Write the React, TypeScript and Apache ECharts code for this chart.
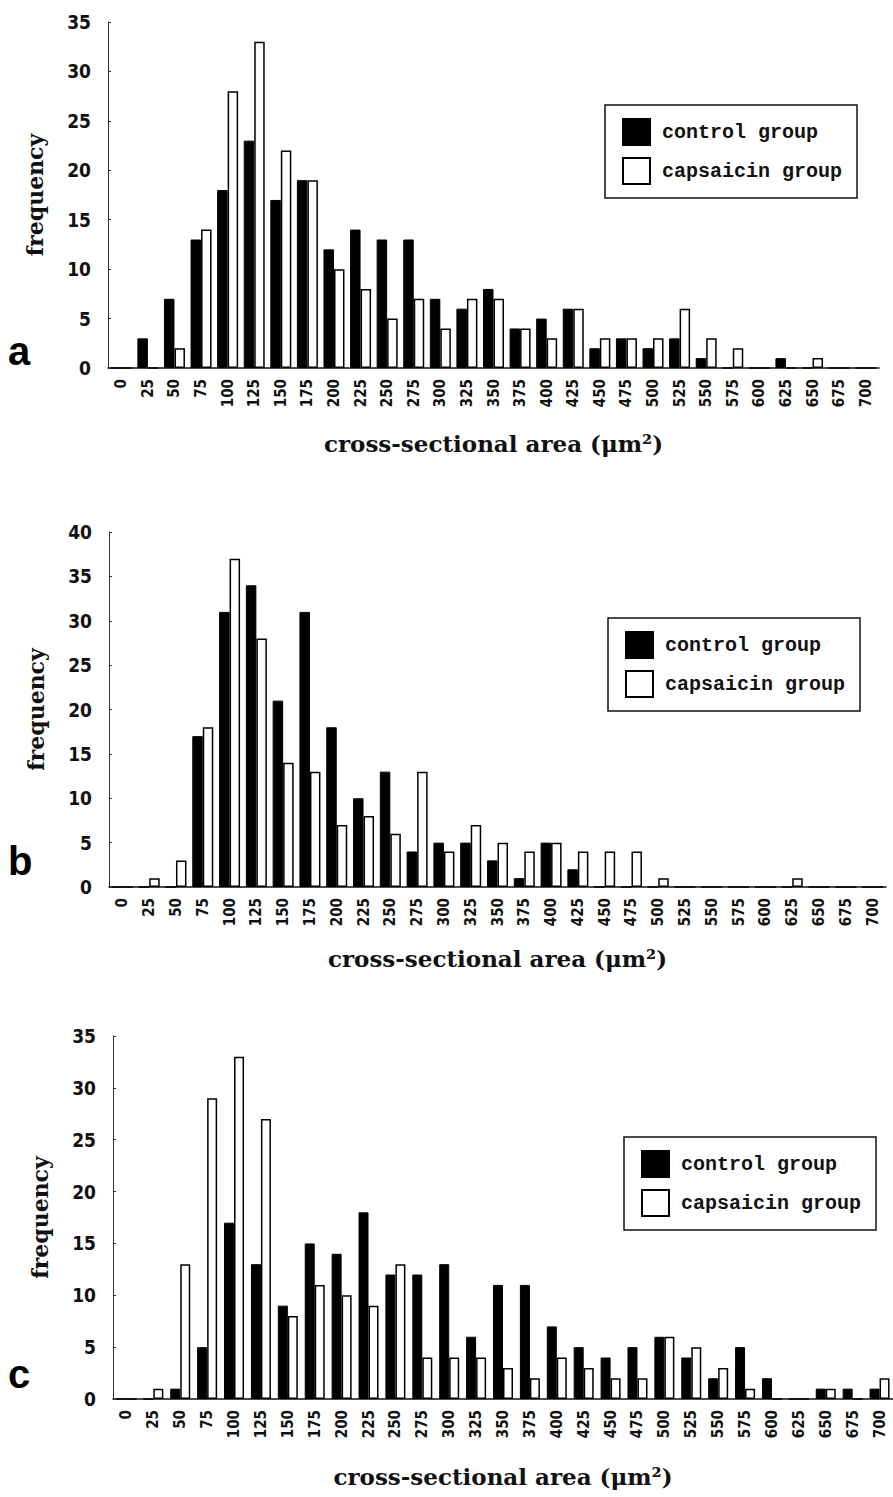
import React, { useEffect, useRef } from 'react';
import * as echarts from 'echarts';

// x-axis categories: cross-sectional area bins (µm²)
const categories = [
  '0', '25', '50', '75', '100', '125', '150', '175', '200', '225', '250', '275', '300', '325', '350',
  '375', '400', '425', '450', '475', '500', '525', '550', '575', '600', '625', '650', '675', '700',
];

// Panel a
const aControl = [0, 3, 7, 13, 18, 23, 17, 19, 12, 14, 13, 13, 7, 6, 8, 4, 5, 6, 2, 3, 2, 3, 1, 0, 0, 1, 0, 0, 0];
const aCapsaicin = [0, 0, 2, 14, 28, 33, 22, 19, 10, 8, 5, 7, 4, 7, 7, 4, 3, 6, 3, 3, 3, 6, 3, 2, 0, 0, 1, 0, 0];

// Panel b
const bControl = [0, 0, 0, 17, 31, 34, 21, 31, 18, 10, 13, 4, 5, 5, 3, 1, 5, 2, 0, 0, 0, 0, 0, 0, 0, 0, 0, 0, 0];
const bCapsaicin = [0, 1, 3, 18, 37, 28, 14, 13, 7, 8, 6, 13, 4, 7, 5, 4, 5, 4, 4, 4, 1, 0, 0, 0, 0, 1, 0, 0, 0];

// Panel c
const cControl = [0, 0, 1, 5, 17, 13, 9, 15, 14, 18, 12, 12, 13, 6, 11, 11, 7, 5, 4, 5, 6, 4, 2, 5, 2, 0, 1, 1, 1];
const cCapsaicin = [0, 1, 13, 29, 33, 27, 8, 11, 10, 9, 13, 4, 4, 4, 3, 2, 4, 3, 2, 2, 6, 5, 3, 1, 0, 0, 1, 0, 2];

const yMaxA = 35;
const yMaxB = 40;
const yMaxC = 35;
const yInterval = 5;

const seriesNames = ['control group', 'capsaicin group'];
const panelLetters = ['a', 'b', 'c'];
const xAxisTitle = 'cross-sectional area (μm²)';
const yAxisTitle = 'frequency';

export default function App() {
  const ref = useRef<HTMLDivElement>(null);

  useEffect(() => {
    if (!ref.current) return;
    const chart = echarts.init(ref.current, null, { renderer: 'svg' });

    const tickFont = "'DejaVu Sans Condensed', 'Liberation Sans Narrow', 'DejaVu Sans', sans-serif";
    const serifFont = "'DejaVu Serif', 'Liberation Serif', serif";
    const monoFont = "'Liberation Mono', 'DejaVu Sans Mono', monospace";
    const ink = '#111';

    const panels = [
      { top: 22, height: 346, left: 108, width: 771, max: yMaxA, control: aControl, caps: aCapsaicin, legendLeft: 605, legendTop: 105, letterY: 331, nameGap: 64, barWidth: 10.5 },
      { top: 532, height: 355, left: 109, width: 777, max: yMaxB, control: bControl, caps: bCapsaicin, legendLeft: 608, legendTop: 618, letterY: 841, nameGap: 60, barWidth: 10.5 },
      { top: 1036, height: 363, left: 113, width: 784, max: yMaxC, control: cControl, caps: cCapsaicin, legendLeft: 624, legendTop: 1137, letterY: 1354, nameGap: 66, barWidth: 10 },
    ];

    const option: any = {
      animation: false,
      backgroundColor: '#fff',
      grid: panels.map((p) => ({ left: p.left, top: p.top, width: p.width, height: p.height, containLabel: false })),
      xAxis: panels.map((p, i) => ({
        type: 'category',
        gridIndex: i,
        data: categories,
        name: xAxisTitle,
        nameLocation: 'middle',
        nameGap: p.nameGap,
        nameTextStyle: { fontFamily: serifFont, fontSize: 23, color: ink, fontWeight: 'bold' },
        axisLine: { show: true, lineStyle: { color: ink, width: 1.5 } },
        axisTick: { show: false },
        axisLabel: {
          interval: 0,
          rotate: 90,
          margin: 11,
          fontFamily: tickFont,
          fontWeight: 'bold',
          fontSize: 15,
          color: ink,
        },
        splitLine: { show: false },
      })),
      yAxis: panels.map((p, i) => ({
        type: 'value',
        gridIndex: i,
        min: 0,
        max: p.max,
        interval: yInterval,
        name: yAxisTitle,
        nameLocation: 'middle',
        nameRotate: 90,
        nameGap: 62,
        nameTextStyle: { fontFamily: serifFont, fontSize: 22, color: ink, fontWeight: 'bold' },
        axisLine: { show: true, lineStyle: { color: '#333', width: 1 } },
        axisTick: { show: true, inside: true, length: 3, lineStyle: { color: '#333' } },
        axisLabel: {
          margin: 17,
          fontFamily: tickFont,
          fontWeight: 'bold',
          fontSize: 19,
          color: ink,
        },
        splitLine: { show: false },
      })),
      legend: panels.map((p) => ({
        orient: 'vertical',
        left: p.legendLeft,
        top: p.legendTop,
        data: seriesNames,
        icon: 'rect',
        itemWidth: 27,
        itemHeight: 26,
        itemGap: 11,
        padding: [13, 15, 13, 17],
        borderColor: ink,
        borderWidth: 1.5,
        borderRadius: 0,
        selectedMode: false,
        textStyle: { fontFamily: monoFont, fontSize: 20, fontWeight: 'bold', color: ink, padding: [0, 0, 0, 7] },
      })),
      series: panels.flatMap((p, i) => [
        {
          type: 'bar',
          name: seriesNames[0],
          xAxisIndex: i,
          yAxisIndex: i,
          data: p.control,
          barWidth: p.barWidth,
          barGap: '0%',
          itemStyle: { color: '#000', borderColor: '#000', borderWidth: 1 },
        },
        {
          type: 'bar',
          name: seriesNames[1],
          xAxisIndex: i,
          yAxisIndex: i,
          data: p.caps,
          barWidth: p.barWidth,
          barGap: '0%',
          itemStyle: { color: '#fff', borderColor: '#000', borderWidth: 1.5 },
        },
      ]),
      graphic: panels.map((p, i) => ({
        type: 'text',
        left: 8,
        top: p.letterY,
        style: {
          text: panelLetters[i],
          fontFamily: "'Liberation Sans', Arial, sans-serif",
          fontWeight: 'bold',
          fontSize: 40,
          fill: '#000',
        },
      })),
    };

    chart.setOption(option);
    return () => {
      chart.dispose();
    };
  }, []);

  return (
    <div
      ref={ref}
      style={{ position: 'absolute', left: 0, top: 0, width: 893, height: 1497, background: '#fff' }}
    />
  );
}
